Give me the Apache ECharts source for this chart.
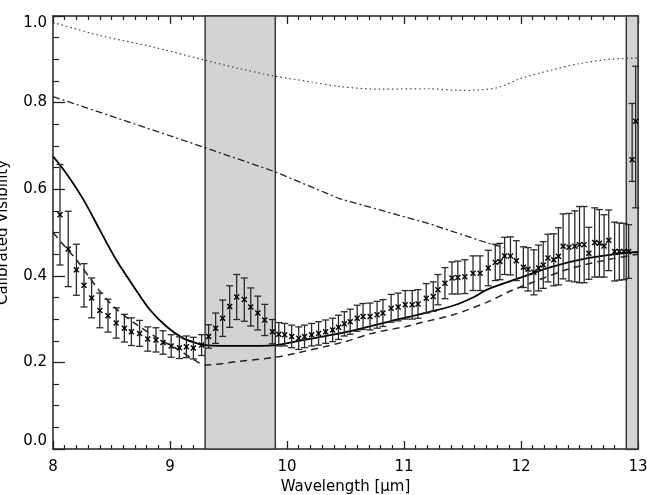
<!DOCTYPE html>
<html>
<head>
<meta charset="utf-8">
<script src="https://cdn.jsdelivr.net/npm/echarts@6/dist/echarts.min.js"></script>
<style>
  html, body { margin: 0; padding: 0; background: #fff; }
  #visChart { width: 647px; height: 495px; }
</style>
</head>
<body>
<div id="visChart"></div>
<script>
// measured visibilities: wavelength, value, error
const waveObs = [8.06, 8.13, 8.20, 8.265, 8.33, 8.40, 8.47, 8.54, 8.61, 8.67, 8.74, 8.81, 8.88, 8.94, 9.01, 9.08, 9.14, 9.20, 9.27,
  9.33, 9.39, 9.45, 9.51, 9.57, 9.635, 9.69, 9.75, 9.81, 9.875, 9.93, 9.98, 10.04, 10.10, 10.15, 10.21, 10.27, 10.33, 10.39, 10.44,
  10.49, 10.54, 10.60, 10.65, 10.71, 10.77, 10.82, 10.89, 10.95, 11.01, 11.07, 11.12, 11.19, 11.25, 11.29, 11.35, 11.41, 11.46,
  11.52, 11.59, 11.65, 11.72, 11.78, 11.82, 11.86, 11.91, 11.96, 12.02, 12.06, 12.11, 12.15, 12.19, 12.23, 12.28, 12.32, 12.36,
  12.41, 12.46, 12.50, 12.54, 12.58, 12.63, 12.67, 12.71, 12.75, 12.80, 12.84, 12.88, 12.92, 12.95, 12.98];
const visObs = [0.541, 0.462, 0.414, 0.378, 0.349, 0.320, 0.308, 0.291, 0.279, 0.271, 0.267, 0.254, 0.252, 0.246, 0.238, 0.234, 0.236, 0.233, 0.240,
  0.260, 0.279, 0.302, 0.329, 0.351, 0.345, 0.328, 0.314, 0.298, 0.271, 0.265, 0.264, 0.260, 0.256, 0.260, 0.264, 0.267, 0.271, 0.275, 0.281,
  0.289, 0.294, 0.302, 0.306, 0.306, 0.310, 0.314, 0.325, 0.328, 0.333, 0.333, 0.335, 0.348, 0.352, 0.368, 0.383, 0.395, 0.396,
  0.398, 0.406, 0.406, 0.418, 0.431, 0.433, 0.446, 0.446, 0.435, 0.420, 0.415, 0.408, 0.418, 0.425, 0.441, 0.437, 0.445, 0.468,
  0.466, 0.468, 0.472, 0.472, 0.452, 0.477, 0.475, 0.469, 0.482, 0.456, 0.456, 0.456, 0.456, 0.668, 0.757];
// lower and upper error (equal except the last two points)
const errLowObs = [0.116, 0.087, 0.059, 0.050, 0.046, 0.040, 0.038, 0.035, 0.032, 0.032, 0.030, 0.028, 0.028, 0.027, 0.026, 0.025, 0.025, 0.025, 0.024,
  0.027, 0.035, 0.042, 0.048, 0.052, 0.050, 0.044, 0.039, 0.036, 0.028, 0.027, 0.026, 0.026, 0.026, 0.026, 0.026, 0.027, 0.027, 0.027, 0.028,
  0.028, 0.029, 0.030, 0.030, 0.031, 0.031, 0.031, 0.032, 0.032, 0.033, 0.033, 0.033, 0.034, 0.034, 0.035, 0.036, 0.037, 0.038,
  0.039, 0.040, 0.040, 0.041, 0.042, 0.042, 0.043, 0.044, 0.046, 0.047, 0.050, 0.052, 0.053, 0.054, 0.055, 0.060, 0.066, 0.075,
  0.078, 0.082, 0.088, 0.088, 0.060, 0.080, 0.078, 0.072, 0.070, 0.068, 0.066, 0.065, 0.062, 0.050, 0.200];
const errHighObs = errLowObs.slice(0, -2).concat([0.130, 0.127]);

// model curves
const dottedWave = [8.0, 8.4, 8.83, 9.3, 9.6, 9.9, 10.2, 10.45, 10.8, 11.2, 11.5, 11.79, 11.99, 12.27, 12.5, 12.76, 13.0];
const dottedVis = [0.985, 0.955, 0.93, 0.898, 0.878, 0.861, 0.848, 0.837, 0.831, 0.832, 0.828, 0.834, 0.855, 0.876, 0.89, 0.90, 0.903];

const dashDotWave = [8.0, 9.3, 9.9, 10.45, 11.22, 11.71, 11.85];
const dashDotVis = [0.814, 0.696, 0.64, 0.578, 0.52, 0.476, 0.465];

const solidWave = [8.0, 8.12, 8.26, 8.40, 8.54, 8.69, 8.83, 8.97, 9.11, 9.23, 9.3, 9.6, 9.9, 10.07, 10.5, 10.88, 11.15, 11.43,
  11.59, 11.71, 11.99, 12.27, 12.56, 12.9, 13.0];
const solidVis = [0.676, 0.634, 0.576, 0.506, 0.437, 0.375, 0.321, 0.283, 0.256, 0.244, 0.240, 0.238, 0.240, 0.248, 0.270, 0.295, 0.312, 0.332,
  0.350, 0.368, 0.395, 0.421, 0.440, 0.453, 0.455];

const dashedWave = [8.0, 8.10, 8.2, 8.39, 8.53, 8.7, 8.9, 9.1, 9.23, 9.3, 9.58, 9.9, 10.07, 10.47, 10.74, 11.02, 11.15, 11.42, 11.7,
  11.92, 12.1, 12.4, 12.7, 13.0];
const dashedVis = [0.50, 0.468, 0.437, 0.368, 0.326, 0.29, 0.255, 0.225, 0.202, 0.194, 0.202, 0.212, 0.221, 0.246, 0.268, 0.283, 0.292, 0.31, 0.338,
  0.366, 0.385, 0.415, 0.435, 0.45];

// grey wavelength bands
const bands = [[9.3, 9.9], [12.9, 13.0]];

const xTicks = [8, 9, 10, 11, 12, 13];
const yTicks = [0.0, 0.2, 0.4, 0.6, 0.8, 1.0];

const pairs = (xs, ys) => xs.map((x, i) => [x, ys[i]]);

const font = 'DejaVu Sans';
const axisCol = '#222';

function visChart() {
  let chart = echarts.init(document.getElementById('visChart'));

  const baseX = {
    type: 'value',
    min: xTicks[0],
    max: xTicks[xTicks.length - 1],
    interval: 1,
    axisLine: { show: true, onZero: false, lineStyle: { color: axisCol, width: 1.5 } },
    axisTick: { show: true, inside: true, length: 8, lineStyle: { color: axisCol, width: 1.3 } },
    minorTick: { show: true, splitNumber: 10, length: 4, lineStyle: { color: axisCol, width: 1.2 } },
    splitLine: { show: false },
    minorSplitLine: { show: false }
  };
  const baseY = {
    type: 'value',
    min: yTicks[0],
    max: yTicks[yTicks.length - 1],
    interval: 0.2,
    axisLine: { show: true, onZero: false, lineStyle: { color: axisCol, width: 1.5 } },
    axisTick: { show: true, inside: true, length: 12, lineStyle: { color: axisCol, width: 1.3 } },
    minorTick: { show: true, splitNumber: 4, length: 6, lineStyle: { color: axisCol, width: 1.2 } },
    splitLine: { show: false },
    minorSplitLine: { show: false }
  };

  let option = {
    animation: false,
    backgroundColor: '#fff',
    grid: { left: 53, right: 9, top: 16, bottom: 46, containLabel: false, outerBoundsMode: 'none' },
    xAxis: [
      Object.assign({}, baseX, {
        position: 'bottom',
        axisLabel: { show: true, margin: 11, fontSize: 15, color: '#000', fontFamily: font },
        name: 'Wavelength [μm]',
        nameLocation: 'middle',
        nameGap: 23,
        nameTextStyle: { fontSize: 15, color: '#000', fontFamily: font }
      }),
      Object.assign({}, baseX, { position: 'top', axisLabel: { show: false } })
    ],
    yAxis: [
      Object.assign({}, baseY, {
        position: 'left',
        axisLabel: {
          show: true, margin: 6, fontSize: 15, color: '#000', fontFamily: font,
          formatter: v => v.toFixed(1),
          verticalAlignMinLabel: 'bottom',
          verticalAlignMaxLabel: 'top'
        },
        name: 'Calibrated Visibility',
        nameLocation: 'middle',
        nameGap: 42,
        nameTextStyle: { fontSize: 15, color: '#000', fontFamily: font }
      }),
      Object.assign({}, baseY, { position: 'right', axisLabel: { show: false } })
    ],
    series: [
      {
        // dotted model
        type: 'line',
        data: pairs(dottedWave, dottedVis),
        showSymbol: false,
        smooth: 0.3,
        lineStyle: { color: '#444', width: 1.2, type: [1.5, 3] },
        z: 3,
        markArea: {
          silent: true,
          itemStyle: { color: '#d3d3d3', borderColor: '#3a3a3a', borderWidth: 1.5 },
          data: bands.map(b => [{ xAxis: b[0] }, { xAxis: b[1] }])
        }
      },
      {
        // dash-dot model
        type: 'line',
        data: pairs(dashDotWave, dashDotVis),
        showSymbol: false,
        lineStyle: { color: '#222', width: 1.3, type: [7, 3, 2, 3] },
        z: 3
      },
      {
        // dashed model
        type: 'line',
        data: pairs(dashedWave, dashedVis),
        showSymbol: false,
        smooth: 0.3,
        lineStyle: { color: '#222', width: 1.5, type: [7, 5] },
        z: 3
      },
      {
        // solid model
        type: 'line',
        data: pairs(solidWave, solidVis),
        showSymbol: false,
        smooth: 0.3,
        lineStyle: { color: '#000', width: 1.8 },
        z: 4
      },
      {
        // observations with error bars
        type: 'custom',
        data: waveObs.map((w, i) => [w, visObs[i], errLowObs[i], errHighObs[i]]),
        z: 5,
        renderItem: function (params, api) {
          const x = api.value(0), y = api.value(1);
          const top = api.coord([x, y + api.value(3)]);
          const bot = api.coord([x, y - api.value(2)]);
          const c = api.coord([x, y]);
          const cap = 3.5, m = 2.5;
          const bar = { stroke: '#2a2a2a', lineWidth: 1.3 };
          const mk = { stroke: '#000', lineWidth: 1.4 };
          return {
            type: 'group',
            children: [
              { type: 'line', shape: { x1: top[0], y1: top[1], x2: bot[0], y2: bot[1] }, style: bar },
              { type: 'line', shape: { x1: top[0] - cap, y1: top[1], x2: top[0] + cap, y2: top[1] }, style: bar },
              { type: 'line', shape: { x1: bot[0] - cap, y1: bot[1], x2: bot[0] + cap, y2: bot[1] }, style: bar },
              { type: 'line', shape: { x1: c[0] - m, y1: c[1] - m, x2: c[0] + m, y2: c[1] + m }, style: mk },
              { type: 'line', shape: { x1: c[0] - m, y1: c[1] + m, x2: c[0] + m, y2: c[1] - m }, style: mk }
            ]
          };
        }
      }
    ]
  };

  chart.setOption(option);
}

visChart();
</script>
</body>
</html>
